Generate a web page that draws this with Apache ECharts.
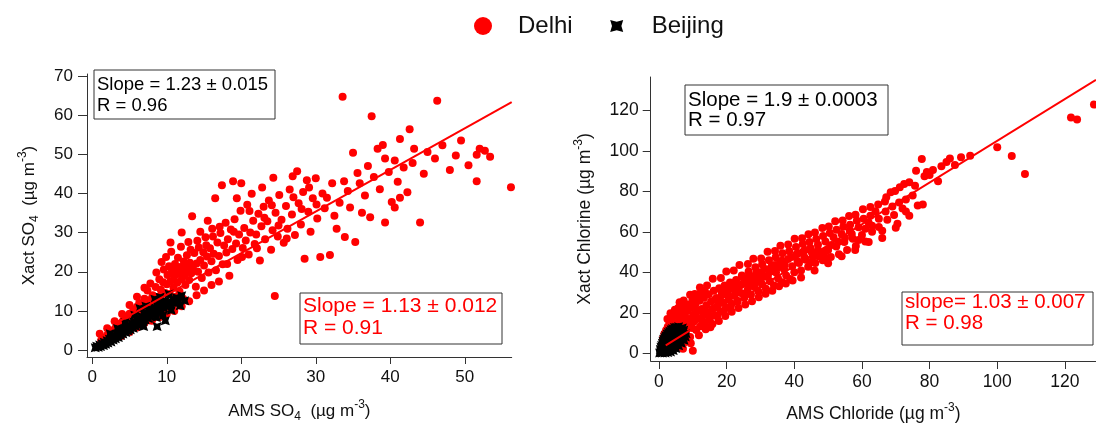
<!DOCTYPE html>
<html>
<head>
<meta charset="utf-8">
<script src="https://cdn.jsdelivr.net/npm/echarts@6/dist/echarts.min.js"></script>
<style>
  html, body { margin: 0; padding: 0; background: #fff; }
  #chart { width: 1096px; height: 428px; }
</style>
</head>
<body>
<div id="chart"></div>
<script>
// ---- Sulfate: AMS SO4 vs Xact SO4 (µg m-3) ----
const delhiSO4 = [
  [1.2,2.5],[1.5,3.1],[1.8,2.9],[2.0,3.8],[2.2,4.4],[2.5,3.6],[2.7,5.0],[3.0,4.2],[3.1,5.6],[3.3,6.3],
  [3.5,4.9],[3.8,6.8],[4.0,5.5],[4.1,7.4],[4.3,8.0],[4.5,6.2],[4.7,8.6],[4.9,7.1],[5.0,9.3],[5.2,6.4],
  [5.4,8.1],[5.5,10.2],[5.7,7.5],[5.9,9.0],[6.0,11.1],[6.2,8.3],[6.3,12.0],[6.5,9.6],[6.6,7.2],[6.8,10.8],
  [7.0,13.1],[7.1,8.8],[7.3,11.6],[7.4,15.2],[7.5,9.9],[7.7,12.8],[7.8,17.0],[8.0,10.6],[8.1,14.0],[8.2,8.2],
  [8.4,12.1],[8.5,16.1],[8.6,19.8],[8.7,11.0],[8.9,13.6],[9.0,18.1],[9.1,9.6],[9.2,15.4],[9.3,22.5],[9.4,12.4],
  [9.5,17.3],[9.6,20.6],[9.7,10.8],[9.8,14.6],[9.9,23.8],[10.0,16.8],[10.1,19.2],[10.2,12.0],[10.3,21.4],[10.4,14.3],
  [10.5,17.6],[10.6,25.1],[10.7,20.3],[10.8,11.2],[10.9,15.9],[11.0,18.8],[11.1,22.0],[11.2,13.6],[11.3,20.5],[11.4,17.2],
  [11.5,23.6],[11.6,19.5],[11.7,15.0],[11.8,21.2],[11.9,26.4],[12.0,18.0],[12.1,20.9],[12.2,13.1],[12.3,22.6],[12.4,19.1],
  [12.5,16.6],[12.6,21.5],[12.7,24.2],[12.8,20.1],[12.9,27.6],[13.0,17.9],[13.1,22.3],[13.3,19.6],[13.4,34.2],[13.5,21.0],
  [13.7,24.8],[13.9,16.2],[14.0,22.1],[14.2,20.0],[14.3,26.2],[14.5,23.0],[14.7,18.4],[14.9,25.0],[15.0,21.6],[15.2,28.8],
  [15.4,23.9],[15.6,19.8],[15.8,26.0],[16.0,22.7],[16.1,31.0],[16.3,24.6],[16.5,38.8],[16.6,20.4],[16.8,27.5],[17.0,24.0],
  [17.2,29.9],[17.4,42.1],[17.5,21.9],[17.7,26.7],[17.9,32.5],[18.0,24.9],[18.2,28.3],[18.4,19.0],[18.6,30.8],[18.8,25.8],
  [18.9,43.1],[19.1,33.4],[19.3,27.2],[19.5,23.0],[19.7,29.5],[19.9,35.6],[20.0,42.6],[20.2,26.1],[20.4,31.2],[20.6,28.0],
  [20.8,37.1],[21.0,24.4],[21.2,30.0],[21.4,39.9],[21.6,33.0],[21.8,27.1],[22.0,29.5],[22.3,34.8],[22.5,22.9],[22.7,31.6],
  [23.0,36.6],[23.2,28.3],[23.5,32.9],[23.7,38.2],[24.0,25.6],[24.2,30.6],[24.5,13.8],[24.6,35.1],[24.9,29.0],[25.1,39.6],
  [25.4,33.3],[25.7,27.4],[26.0,36.8],[26.2,31.0],[26.5,41.0],[26.8,34.6],[26.9,44.4],[27.2,29.4],[27.5,45.7],[27.7,37.5],
  [28.0,32.1],[28.3,40.4],[28.5,23.3],[28.8,43.4],[29.0,35.3],[29.3,30.2],[29.6,38.8],[30.0,43.9],[30.2,33.6],[30.6,23.8],
  [30.9,40.0],[31.2,36.2],[31.5,38.9],[31.9,24.3],[32.2,42.6],[32.5,34.3],[32.8,31.0],[33.2,37.6],[33.6,64.7],[33.8,43.1],
  [33.9,28.9],[34.3,40.6],[34.6,36.4],[35.0,50.4],[35.3,27.6],[35.6,45.2],[35.9,42.6],[36.2,35.1],[36.6,39.5],[37.0,47.0],
  [37.3,33.9],[37.5,59.7],[37.8,44.2],[38.3,51.4],[38.6,41.1],[39.0,52.4],[39.3,32.6],[39.3,48.9],[39.8,45.5],[40.2,37.8],
  [40.6,48.4],[40.6,36.4],[41.0,43.0],[41.3,53.9],[41.3,38.9],[41.8,46.6],[42.3,40.3],[42.6,56.4],[43.0,47.8],[43.2,51.4],
  [44.0,32.6],[44.5,45.0],[45.0,50.6],[46.0,48.9],[46.3,63.7],[47.0,52.3],[48.0,46.0],[48.8,49.7],[49.5,53.5],[50.5,47.2],
  [51.6,49.9],[51.6,43.1],[52.0,51.4],[52.7,50.9],[53.4,49.4],[56.2,41.6],
  [1.0,4.2],[2.0,5.6],[3.0,7.4],[4.0,9.2],[5.0,11.5],[6.0,13.6],[7.0,15.9],[3.9,3.6],[5.0,4.6],[6.0,5.8],
  [7.0,6.9],[8.0,7.5],[9.0,8.4],[10.0,9.3],[11.0,10.0],[12.0,11.2],[13.0,12.5],[14.0,14.0],[15.0,15.2],[16.0,16.6],
  [17.0,17.5],[10.5,27.5],[12.0,30.0],[14.5,30.2],[15.5,33.0],[13.2,25.6],[14.1,27.9],[15.3,26.8],[16.2,29.0],[17.1,31.5],
  [18.1,22.0],[19.0,30.2],[20.1,23.8],[21.1,35.5],[22.1,26.0],[23.1,33.8],[24.1,37.0],[25.0,31.8],[26.1,28.5],[27.0,39.0],
  [28.1,36.0],[29.1,41.5],[30.1,37.2],[19.4,38.8],[22.8,41.5],[24.3,44.0]
];
const beijingSO4 = [
  [0.4,0.6],[0.6,1.0],[0.8,0.7],[1.0,1.3],[1.1,0.9],[1.3,1.6],[1.5,1.2],[1.6,2.0],[1.8,1.5],[2.0,2.4],
  [2.1,1.8],[2.3,2.8],[2.5,2.1],[2.6,3.3],[2.8,2.6],[3.0,3.6],[3.1,2.9],[3.3,4.1],[3.5,3.2],[3.6,4.6],
  [3.8,3.7],[4.0,5.0],[4.1,4.1],[4.3,5.4],[4.5,4.5],[4.6,5.9],[4.8,4.9],[5.0,6.3],[5.1,5.2],[5.3,6.8],
  [5.5,5.6],[5.6,7.2],[5.8,6.1],[6.0,7.7],[6.1,6.4],[6.3,8.1],[6.5,6.9],[6.6,8.6],[6.8,7.3],[7.0,9.0],
  [7.1,7.7],[7.3,9.5],[7.5,8.1],[7.6,10.0],[7.8,8.6],[8.0,10.4],[8.2,9.0],[8.3,10.9],[8.5,9.4],[8.7,11.3],
  [8.9,9.8],[9.0,12.0],[9.2,10.3],[9.4,11.7],[9.6,10.7],[9.8,12.6],[10.0,11.1],[10.2,12.2],[10.5,11.6],[10.8,12.9],
  [11.0,12.0],[11.3,13.4],[11.6,12.5],[12.0,13.9],[6.4,10.6],[7.2,11.2],[5.7,8.9],[4.4,7.0],[3.4,5.5],[8.4,13.0],
  [9.1,13.5],[10.3,14.3],[2.4,4.2],[6.9,6.0],[8.6,8.3],[8.7,6.0],[9.8,7.5],[10.6,10.2],[9.5,8.8],[12.4,12.6],[11.8,11.3]
];
const delhiSO4Fit = [[3.0,6.7],[56.3,63.3]];

// ---- Chloride: AMS Chloride vs Xact Chlorine (µg m-3) ----
const delhiCl = [
  [0.8,1.5],[1.0,3.2],[1.3,2.0],[1.5,4.8],[1.8,3.0],[2.0,6.5],[2.2,2.4],[2.4,5.0],[2.7,8.3],[3.0,3.6],
  [3.2,6.6],[3.5,10.2],[3.7,4.5],[4.0,8.0],[4.2,12.0],[4.5,5.5],[4.8,9.6],[5.0,14.1],[5.3,6.8],[5.6,11.2],
  [5.9,16.0],[6.1,8.4],[6.4,13.0],[6.8,20.3],[7.1,2.3],[7.0,10.0],[7.4,15.2],[7.7,18.4],[8.0,11.8],[8.3,21.0],
  [8.6,14.0],[9.0,17.0],[9.2,8.2],[9.5,22.6],[9.8,12.6],[10.0,1.3],[10.1,19.1],[10.4,15.8],[10.7,24.0],[11.0,11.6],
  [11.3,20.8],[11.6,17.2],[12.0,26.0],[12.3,13.4],[12.6,22.0],[13.0,18.6],[13.3,27.5],[13.6,15.0],[14.0,23.8],[14.3,20.5],
  [14.7,29.2],[15.0,16.6],[15.4,25.6],[15.8,21.9],[16.2,31.0],[16.6,18.8],[17.0,27.4],[17.4,23.5],[17.8,32.2],[18.2,20.6],
  [18.6,28.9],[19.0,25.0],[19.4,33.6],[19.8,22.7],[20.2,30.4],[20.6,26.8],[21.0,35.0],[21.4,24.6],[21.9,31.8],[22.3,28.5],
  [22.8,36.2],[23.2,26.0],[23.7,33.1],[24.2,29.8],[24.7,37.6],[25.2,27.5],[25.7,34.4],[26.2,31.3],[26.7,38.9],[27.2,29.0],
  [27.8,35.7],[28.3,32.8],[28.9,40.4],[29.4,30.6],[30.0,37.0],[30.5,34.1],[31.1,41.8],[31.6,32.0],[32.2,38.3],[32.8,35.6],
  [33.4,43.5],[34.0,33.5],[34.6,39.9],[35.2,37.0],[35.8,45.2],[36.4,35.1],[37.0,41.4],[37.6,38.5],[38.2,46.6],[38.8,36.8],
  [39.4,43.0],[40.0,40.1],[40.7,48.9],[41.4,44.6],[42.0,41.0],[42.7,50.3],[43.4,46.2],[44.1,42.8],[44.8,52.0],[45.5,47.9],
  [46.2,44.6],[47.0,53.6],[47.7,49.5],[48.4,46.0],[49.2,55.2],[50.0,51.0],[50.8,47.6],[51.6,57.4],[52.4,52.8],[53.2,49.0],
  [54.0,59.0],[54.8,55.0],[55.6,51.0],[56.4,60.5],[57.3,56.6],[58.2,53.0],[59.0,62.3],[60.0,58.4],[61.0,55.2],[62.0,64.5],
  [63.0,60.0],[64.0,70.2],[65.0,62.4],[66.0,57.0],[66.8,75.0],[67.5,66.0],[68.5,79.5],[69.5,68.3],[70.5,64.0],[71.2,82.0],
  [72.0,71.5],[73.0,76.0],[74.0,84.5],[75.7,82.8],[76.5,73.0],[77.7,95.9],[78.5,87.5],[80.0,88.0],[81.0,90.5],[82.5,85.0],
  [85.0,94.5],[86.0,96.2],[89.3,96.8],[100.0,101.8],[104.3,97.4],[108.2,88.6],[121.8,116.4],[123.6,115.4],[128.6,122.8],
  [1.2,7.5],[1.6,9.8],[2.1,11.5],[2.6,13.2],[3.1,15.0],[3.6,16.8],[4.1,18.6],[4.6,20.1],[5.2,21.5],[5.7,22.4],
  [6.2,23.4],[3.3,12.6],[4.4,14.6],[5.5,18.3],[6.6,17.1],[7.8,22.8],[8.8,24.2],[9.9,26.5],[11.1,27.9],[12.2,29.6],
  [13.5,31.0],[3.8,1.8],[5.8,3.5],[7.6,5.5],[9.4,5.0],[11.8,9.0],[13.8,12.0],[15.8,14.5],[17.7,16.0],[19.6,18.5],
  [21.5,20.6],[23.5,22.4],[25.5,24.2],[27.5,25.8],[29.5,27.7],[31.5,29.5],[33.5,31.0],[35.5,33.2],[37.5,34.5],[39.5,36.0],
  [12.8,16.0],[14.6,19.2],[16.4,22.5],[18.4,25.6],[20.4,28.7],[22.4,31.4],[24.4,34.0],[26.4,36.2],[28.4,38.2],[30.4,40.0],
  [32.4,41.6],[34.4,43.6],[36.4,45.8],[15.2,13.0],[17.2,18.4],[19.2,21.0],[21.2,23.2],[23.2,25.5],[25.2,29.4],[27.2,33.4],
  [29.2,35.4],[31.2,37.8],[33.2,40.6],[35.2,42.4],[37.2,43.8],[39.2,47.6],[41.2,49.4],[43.2,51.0],[45.2,49.8],[47.2,48.0],
  [49.2,50.4],
  [2.5,17.0],[3.4,19.8],[4.7,21.6],[6.1,25.3],[7.3,26.1],[9.2,29.0],[10.6,29.4],[12.1,32.6],[14.2,33.5],[15.9,36.9],
  [18.3,37.2],[19.9,40.4],[22.1,40.9],[23.8,43.6],[26.3,44.1],[27.9,46.8],[30.2,46.9],[32.1,50.2],[34.3,50.6],[35.9,53.1],
  [38.2,53.8],[40.1,56.6],[42.3,56.9],[44.2,58.8],[46.1,59.7],[48.3,61.9],[50.2,62.6],[52.1,65.2],[54.3,65.6],[56.2,67.8],
  [58.1,68.5],[60.3,71.2],[62.5,72.3],[64.8,73.5],[67.2,77.1],[69.8,80.2],[72.5,83.6],[76.0,90.2],[79.2,89.5],[83.5,92.4],
  [87.5,93.0],[92.0,97.5],
  [16.5,26.5],[18.5,30.5],[20.5,33.5],[22.5,35.0],[24.5,38.5],[26.5,40.5],[28.5,42.5],[30.5,44.0],[32.5,46.0],[34.5,47.5],
  [36.5,49.5],[38.5,50.5],[40.5,52.5],[42.5,54.0],[44.5,55.0],[46.5,56.5],[48.5,58.0],[50.5,59.5],[52.5,61.0],[54.5,62.5],
  [56.5,63.5],[58.5,65.5],[60.5,66.5],[62.5,68.0],[41.0,45.5],[43.0,47.5],[45.0,45.0],[47.0,51.0],[49.0,47.5],[51.0,53.5],
  [53.0,55.0],[55.0,57.0],[57.0,59.0],[59.0,56.0],[61.0,61.5],[63.0,63.0],[65.0,66.5],[67.0,70.0],[69.0,72.5],[71.0,74.5],
  [73.0,70.0],[75.0,78.0],[42.0,37.5],[46.0,41.0],[50.0,44.5],[54.0,48.0],[58.0,51.0],[62.0,55.0],[66.0,60.5],[70.0,62.0],
  [74.0,68.0],[78.0,73.5]
];
const beijingCl = [
  [0.2,0.3],[0.5,0.8],[0.7,0.4],[0.9,1.5],[1.1,0.7],[1.3,2.2],[1.5,1.1],[1.7,3.0],[1.9,1.6],[2.1,3.8],
  [2.3,2.2],[2.5,4.6],[2.7,2.8],[2.9,5.4],[3.1,3.3],[3.3,6.2],[3.5,3.9],[3.7,7.0],[3.9,4.5],[4.1,7.8],
  [4.3,5.0],[4.5,8.6],[4.7,5.7],[4.9,9.3],[5.1,6.3],[5.3,10.0],[5.5,7.0],[5.7,10.8],[5.9,7.8],[6.1,11.4],
  [6.3,8.6],[6.5,12.0],[6.7,9.5],[6.9,12.6],[7.1,10.3],[7.3,11.5],[0.4,2.0],[0.6,3.1],[0.8,4.0],[1.0,5.0],
  [1.2,6.0],[1.4,7.0],[1.7,7.9],[2.0,8.8],[2.4,9.6],[2.8,10.4],[3.2,11.0],[3.6,11.7],[4.0,12.2],[4.6,12.8],
  [5.2,13.0],[5.8,13.2],[1.0,0.2],[1.8,0.3],[2.6,0.5],[3.4,0.8],[4.2,1.5],[5.0,2.5],[5.8,3.8],[6.6,5.0],
  [7.4,6.5],[7.8,8.2],[8.0,9.8],[1.5,3.5],[2.2,5.5],[3.0,7.5],[3.8,9.0],[4.6,10.5],[5.4,11.5],[2.0,1.0],
  [3.0,2.0],[4.0,3.0],[5.0,4.4],[6.0,5.8],[7.0,7.4]
];
const delhiClFit = [[2.0,4.0],[129.2,135.0]];

// tick values
const so4XTicks = [0, 10, 20, 30, 40, 50];
const so4YTicks = [0, 10, 20, 30, 40, 50, 60, 70];
const clXTicks = [0, 20, 40, 60, 80, 100, 120];
const clYTicks = [0, 20, 40, 60, 80, 100, 120];

// annotation text
const so4Stats = { delhi: ['Slope = 1.13 ± 0.012', 'R = 0.91'], beijing: ['Slope = 1.23 ± 0.015', 'R = 0.96'] };
const clStats = { delhi: ['slope= 1.03 ± 0.007', 'R = 0.98'], beijing: ['Slope = 1.9 ± 0.0003', 'R = 0.97'] };

const FONT = '"Liberation Sans", Arial, Helvetica, sans-serif';
const RED = '#ff0000';
const INK = '#111';
const AXIS = '#333';

// Beijing marker: square with slightly pinched sides
const bowtie = 'path://M0,0 L5,1.7 L10,0 L8.3,5 L10,10 L5,8.3 L0,10 L1.7,5 Z';
const bowtieLegend = 'path://M0,0 M18,18 M2.5,3 L9,4.8 L15.5,3 L13.7,9 L15.5,15 L9,13.2 L2.5,15 L4.3,9 Z';

function nameStyle(size) {
  return {
    fontFamily: FONT, fontSize: size, color: INK,
    rich: {
      t: { fontFamily: FONT, fontSize: size, color: INK, lineHeight: 24, verticalAlign: 'middle' },
      sub: { fontFamily: FONT, fontSize: 12, color: INK, lineHeight: 12, verticalAlign: 'bottom' },
      sup: { fontFamily: FONT, fontSize: 12, color: INK, lineHeight: 12, verticalAlign: 'top' }
    }
  };
}

function valueAxis(opts) {
  return {
    type: 'value',
    gridIndex: opts.grid,
    min: opts.min, max: opts.max,
    name: opts.name,
    nameLocation: 'middle',
    nameGap: opts.nameGap,
    nameTextStyle: nameStyle(opts.nameSize),
    axisLine: { show: true, onZero: false, lineStyle: { color: AXIS, width: 1 } },
    axisTick: { show: true, inside: false, length: opts.tickLen, customValues: opts.ticks, lineStyle: { color: AXIS, width: 1 } },
    axisLabel: { show: true, customValues: opts.ticks, margin: opts.labelMargin, fontFamily: FONT, fontSize: opts.labelSize, color: INK },
    splitLine: { show: false }
  };
}

function statBox(x, y, w, h, lines, lineY, textX, size, color) {
  return {
    type: 'group',
    children: [
      { type: 'rect', shape: { x: x, y: y, width: w, height: h },
        style: { fill: '#fff', stroke: AXIS, lineWidth: 1 }, z: 10 },
      { type: 'text', x: textX, y: lineY[0], z: 11,
        style: { text: lines[0], font: size + 'px ' + FONT, fill: color, textVerticalAlign: 'middle', verticalAlign: 'middle' } },
      { type: 'text', x: textX, y: lineY[1], z: 11,
        style: { text: lines[1], font: size + 'px ' + FONT, fill: color, textVerticalAlign: 'middle', verticalAlign: 'middle' } }
    ]
  };
}

const chart = echarts.init(document.getElementById('chart'), null, { renderer: 'canvas' });

chart.setOption({
  animation: false,
  backgroundColor: '#fff',
  legend: {
    data: [
      { name: 'Delhi', icon: 'circle' },
      { name: 'Beijing', icon: bowtieLegend }
    ],
    left: 474, top: 14,
    itemWidth: 18, itemHeight: 18, itemGap: 35,
    padding: 0,
    textStyle: { fontFamily: FONT, fontSize: 24, color: INK, padding: [0, 0, 0, 21] }
  },
  grid: [
    { left: 87, top: 74, width: 424.7, height: 288 },
    { left: 650.7, top: 77, width: 445.3, height: 287.3 }
  ],
  xAxis: [
    valueAxis({ grid: 0, min: -0.71, max: 56.3, ticks: so4XTicks, tickLen: 7, labelMargin: 12, labelSize: 17,
      name: '{t|AMS SO}{sub|4}{t|  (µg m}{sup|-3}{t|)}', nameGap: 42, nameSize: 17 }),
    valueAxis({ grid: 1, min: -2.45, max: 129.2, ticks: clXTicks, tickLen: 8, labelMargin: 12, labelSize: 17.5,
      name: '{t|AMS Chloride (µg m}{sup|-3}{t|)}', nameGap: 41, nameSize: 17.5 })
  ],
  yAxis: [
    valueAxis({ grid: 0, min: -1.76, max: 70.5, ticks: so4YTicks, tickLen: 9, labelMargin: 14, labelSize: 17,
      name: '{t|Xact SO}{sub|4}{t|  (µg m}{sup|-3}{t|)}', nameGap: 46, nameSize: 17 }),
    valueAxis({ grid: 1, min: -3.7, max: 136.4, ticks: clYTicks, tickLen: 8, labelMargin: 12, labelSize: 17.5,
      name: '{t|Xact Chlorine (µg m}{sup|-3}{t|)}', nameGap: 54, nameSize: 17.5 })
  ],
  series: [
    { name: 'Delhi', type: 'scatter', xAxisIndex: 0, yAxisIndex: 0, data: delhiSO4,
      symbol: 'circle', symbolSize: 8, itemStyle: { color: RED, opacity: 1 }, z: 2 },
    { name: 'Beijing', type: 'scatter', xAxisIndex: 0, yAxisIndex: 0, data: beijingSO4,
      symbol: bowtie, symbolSize: 9, itemStyle: { color: '#000', opacity: 1 }, z: 3 },
    { name: 'Delhi fit SO4', type: 'line', xAxisIndex: 0, yAxisIndex: 0, data: delhiSO4Fit,
      symbol: 'none', silent: true, lineStyle: { color: RED, width: 2 }, z: 4 },
    { name: 'Delhi', type: 'scatter', xAxisIndex: 1, yAxisIndex: 1, data: delhiCl,
      symbol: 'circle', symbolSize: 8, itemStyle: { color: RED, opacity: 1 }, z: 2 },
    { name: 'Beijing', type: 'scatter', xAxisIndex: 1, yAxisIndex: 1, data: beijingCl,
      symbol: bowtie, symbolSize: 9, itemStyle: { color: '#000', opacity: 1 }, z: 3 },
    { name: 'Delhi fit Cl', type: 'line', xAxisIndex: 1, yAxisIndex: 1, data: delhiClFit,
      symbol: 'none', silent: true, lineStyle: { color: RED, width: 2 }, z: 4 }
  ],
  graphic: [
    statBox(94, 70, 181, 49, so4Stats.beijing, [85, 106], 97, 18.5, '#000'),
    statBox(300, 293, 202, 51, so4Stats.delhi, [306.5, 328], 303, 21, RED),
    statBox(685, 85, 203, 50, clStats.beijing, [100.5, 120], 688, 20.5, '#000'),
    statBox(902, 292, 191, 53, clStats.delhi, [302, 323.5], 905, 20.5, RED)
  ]
});
</script>
</body>
</html>
